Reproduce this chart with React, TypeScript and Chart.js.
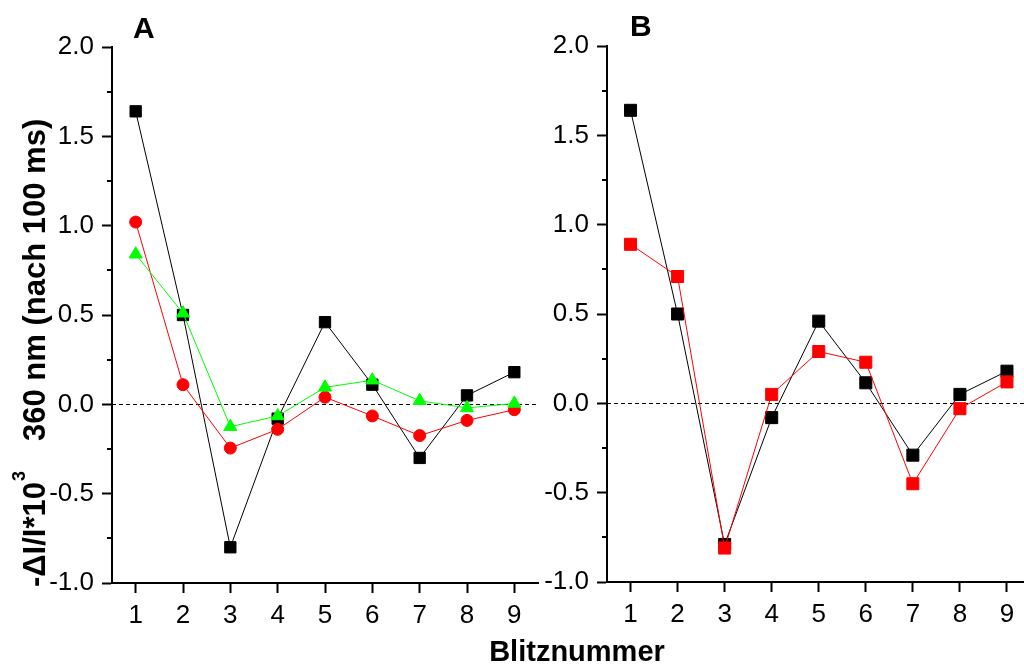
import React, { useEffect, useRef } from "react";
import { Chart, registerables } from "chart.js";

Chart.register(...registerables);

// Flash numbers along the x axis
const FLASHES = [1, 2, 3, 4, 5, 6, 7, 8, 9];

// Panel A: three series
const A_BLACK = [1.64, 0.5, -0.8, -0.08, 0.46, 0.11, -0.3, 0.05, 0.18];
const A_RED = [1.02, 0.11, -0.245, -0.14, 0.04, -0.065, -0.175, -0.09, -0.03];
const A_GREEN = [0.84, 0.51, -0.125, -0.065, 0.095, 0.135, 0.02, -0.02, 0.005];

// Panel B: two series
const B_BLACK = [1.64, 0.5, -0.79, -0.08, 0.46, 0.115, -0.29, 0.05, 0.18];
const B_RED = [0.89, 0.71, -0.81, 0.05, 0.29, 0.23, -0.45, -0.03, 0.12];

// Axis ranges and ticks
const Y_MIN = -1;
const Y_MAX = 2;
const Y_STEP = 0.5;
const Y_MINOR = [-0.75, -0.25, 0.25, 0.75, 1.25, 1.75];
const X_MIN = 0.5;
const X_MAX = 9.5;

const Y_TITLE_MAIN = "-\u0394I/I*10";
const Y_TITLE_EXP = "3";
const Y_TITLE_REST = "360 nm (nach 100 ms)";
const X_TITLE = "Blitznummer";

const FONT = '"Liberation Sans", Arial, Helvetica, sans-serif';

Chart.defaults.font.family = FONT;
Chart.defaults.color = "#000";

const toPoints = (ys: number[]) => FLASHES.map((x, i) => ({ x, y: ys[i] }));

type Series = {
  values: number[];
  color: string;
  style: "rect" | "circle" | "triangle";
  radius: number;
};

type PanelSpec = {
  letter: string;
  letterX: number;
  letterY: number;
  width: number;
  height: number;
  padTop: number;
  padRight: number;
  yWidth: number;
  xHeight: number;
  series: Series[]; // first entry is drawn on top
  yTitle: boolean;
};

const zeroLinePlugin = {
  id: "zeroLine",
  beforeDatasetsDraw(chart: any) {
    const { ctx, chartArea, scales } = chart;
    const y = Math.round(scales.y.getPixelForValue(0)) + 0.5;
    ctx.save();
    ctx.strokeStyle = "#000";
    ctx.lineWidth = 1;
    ctx.setLineDash([4, 3]);
    ctx.beginPath();
    ctx.moveTo(chartArea.left, y);
    ctx.lineTo(chartArea.right, y);
    ctx.stroke();
    ctx.restore();
  },
};

const minorTickPlugin = {
  id: "minorTicks",
  afterDraw(chart: any) {
    const { ctx, chartArea, scales } = chart;
    ctx.save();
    ctx.strokeStyle = "#000";
    ctx.lineWidth = 2;
    Y_MINOR.forEach((v) => {
      const y = Math.round(scales.y.getPixelForValue(v));
      ctx.beginPath();
      ctx.moveTo(chartArea.left - 5, y);
      ctx.lineTo(chartArea.left, y);
      ctx.stroke();
    });
    ctx.restore();
  },
};

const makeLabelPlugin = (spec: PanelSpec) => ({
  id: "panelLabels",
  afterDraw(chart: any) {
    const ctx = chart.ctx;
    ctx.save();
    ctx.fillStyle = "#000";
    ctx.textAlign = "left";
    ctx.textBaseline = "alphabetic";
    ctx.font = `bold 30px ${FONT}`;
    ctx.fillText(spec.letter, spec.letterX, spec.letterY);

    if (spec.yTitle) {
      ctx.translate(45, 587);
      ctx.rotate(-Math.PI / 2);
      ctx.font = `bold 31px ${FONT}`;
      ctx.fillText(Y_TITLE_MAIN, 0, 0);
      let x = ctx.measureText(Y_TITLE_MAIN).width + 1;
      ctx.font = `bold 18px ${FONT}`;
      ctx.fillText(Y_TITLE_EXP, x, -20);
      x += ctx.measureText(Y_TITLE_EXP).width + 30;
      ctx.font = `bold 31px ${FONT}`;
      ctx.fillText(Y_TITLE_REST, x, 0);
    }
    ctx.restore();
  },
});

function Panel({ spec, left }: { spec: PanelSpec; left: number }) {
  const ref = useRef<HTMLCanvasElement | null>(null);

  useEffect(() => {
    if (!ref.current) return;
    const chart = new Chart(ref.current, {
      type: "line",
      data: {
        datasets: spec.series.map((s) => ({
          data: toPoints(s.values),
          borderColor: s.color,
          backgroundColor: s.color,
          borderWidth: 1,
          pointStyle: s.style,
          pointRadius: s.radius,
          pointBorderWidth: 1,
          pointBackgroundColor: s.color,
          pointBorderColor: s.color,
          tension: 0,
          fill: false,
        })),
      },
      options: {
        animation: false,
        responsive: false,
        events: [],
        layout: {
          padding: { top: spec.padTop, right: spec.padRight, left: 0, bottom: 0 },
        },
        plugins: {
          legend: { display: false },
          tooltip: { enabled: false },
        },
        scales: {
          x: {
            type: "linear",
            min: X_MIN,
            max: X_MAX,
            afterBuildTicks: (scale: any) => {
              scale.ticks = FLASHES.map((v) => ({ value: v }));
            },
            afterFit: (scale: any) => {
              scale.height = spec.xHeight;
            },
            ticks: {
              font: { size: 26 },
              padding: 7,
              maxRotation: 0,
              callback: (v: any) => String(v),
            },
            grid: {
              display: true,
              drawOnChartArea: false,
              drawTicks: true,
              tickLength: 10,
              tickColor: "#000",
              tickWidth: 2,
              color: "#000",
            },
            border: { display: true, color: "#000", width: 2 },
          },
          y: {
            type: "linear",
            min: Y_MIN,
            max: Y_MAX,
            afterFit: (scale: any) => {
              scale.width = spec.yWidth;
            },
            ticks: {
              stepSize: Y_STEP,
              font: { size: 26 },
              padding: 8,
              callback: (v: any) => Number(v).toFixed(1),
            },
            grid: {
              display: true,
              drawOnChartArea: false,
              drawTicks: true,
              tickLength: 10,
              tickColor: "#000",
              tickWidth: 2,
              color: "#000",
            },
            border: { display: true, color: "#000", width: 2 },
          },
        },
      } as any,
      plugins: [zeroLinePlugin, minorTickPlugin, makeLabelPlugin(spec)],
    });
    return () => chart.destroy();
  }, [spec]);

  return (
    <canvas
      ref={ref}
      width={spec.width}
      height={spec.height}
      style={{ position: "absolute", left, top: 0, width: spec.width, height: spec.height }}
    />
  );
}

const PANEL_A: PanelSpec = {
  letter: "A",
  letterX: 133,
  letterY: 38,
  width: 560,
  height: 664,
  padTop: 47,
  padRight: 22,
  yWidth: 112,
  xHeight: 81,
  yTitle: true,
  series: [
    { values: A_GREEN, color: "#00ff00", style: "triangle", radius: 7.5 },
    { values: A_RED, color: "#ff0000", style: "circle", radius: 6 },
    { values: A_BLACK, color: "#000000", style: "rect", radius: 8 },
  ],
};

const PANEL_B: PanelSpec = {
  letter: "B",
  letterX: 90,
  letterY: 36,
  width: 500,
  height: 664,
  padTop: 46,
  padRight: 7,
  yWidth: 67,
  xHeight: 82,
  yTitle: false,
  series: [
    { values: B_RED, color: "#ff0000", style: "rect", radius: 8.5 },
    { values: B_BLACK, color: "#000000", style: "rect", radius: 8.5 },
  ],
};

export default function App() {
  return (
    <div
      style={{
        position: "absolute",
        left: 0,
        top: 0,
        width: 1024,
        height: 664,
        overflow: "hidden",
        background: "#fff",
      }}
    >
      <Panel spec={PANEL_A} left={0} />
      <Panel spec={PANEL_B} left={540} />
      <div
        style={{
          position: "absolute",
          left: 377,
          top: 637,
          width: 400,
          textAlign: "center",
          font: `bold 29px ${FONT}`,
          lineHeight: "29px",
          color: "#000",
        }}
      >
        {X_TITLE}
      </div>
    </div>
  );
}
